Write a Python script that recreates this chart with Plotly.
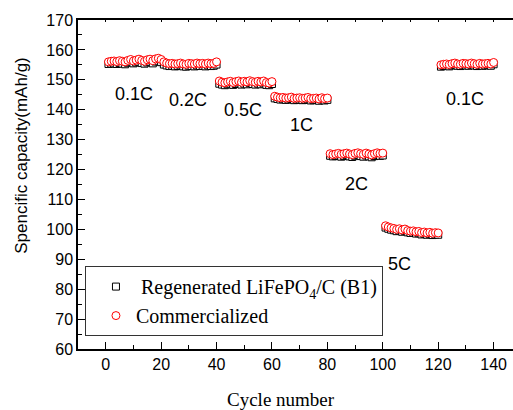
import plotly.graph_objects as go

# Cycle index and rate steps (20 cycles per step)
cycles = list(range(1, 141))

regenerated = [
    155.3, 155.4, 155.5, 155.3, 155.6, 155.4, 155.2, 155.7, 155.9, 155.5,
    155.8, 156.0, 155.6, 155.4, 155.8, 156.0, 155.5, 156.1, 156.2, 155.9,
    155.1, 154.8, 154.6, 154.7, 154.5, 154.6, 154.8, 154.5, 154.4, 154.7,
    154.6, 154.5, 154.8, 154.6, 154.7, 154.5, 154.8, 154.6, 154.7, 155.1,
    148.7, 148.4, 148.2, 148.5, 148.7, 148.3, 148.6, 148.8, 148.4, 148.7,
    148.5, 148.9, 148.6, 148.4, 148.7, 148.5, 148.8, 148.3, 148.2, 148.6,
    143.8, 143.6, 143.4, 143.5, 143.3, 143.4, 143.6, 143.2, 143.3, 143.4,
    143.2, 143.3, 143.5, 143.1, 143.2, 143.3, 143.0, 143.4, 143.1, 143.3,
    124.6, 124.4, 124.5, 124.7, 124.3, 124.5, 124.8, 124.4, 124.2, 124.6,
    124.9, 124.5, 124.3, 124.7, 124.4, 124.1, 124.5, 124.8, 124.6, 124.7,
    100.6, 100.2, 99.9, 99.7, 99.4, 99.6, 99.2, 99.5, 99.0, 98.8,
    98.9, 98.6, 98.7, 98.3, 98.5, 98.2, 98.4, 98.1, 98.3, 98.2,
    154.4, 154.6, 154.7, 154.5, 154.8, 155.0, 154.7, 154.6, 154.9, 154.8,
    154.7, 155.0, 154.8, 154.6, 154.9, 154.7, 154.8, 154.9, 154.7, 155.2,
]

commercialized = [
    156.0, 156.2, 156.3, 156.1, 156.4, 156.2, 156.0, 156.5, 156.8, 156.3,
    156.6, 156.9, 156.5, 156.2, 156.7, 156.9, 156.4, 157.0, 157.2, 156.8,
    156.0, 155.6, 155.4, 155.5, 155.3, 155.4, 155.6, 155.3, 155.2, 155.5,
    155.4, 155.3, 155.6, 155.4, 155.5, 155.3, 155.6, 155.4, 155.5, 156.0,
    149.6, 149.2, 149.0, 149.3, 149.5, 149.1, 149.4, 149.6, 149.2, 149.5,
    149.3, 149.7, 149.4, 149.2, 149.5, 149.3, 149.6, 149.1, 148.9, 149.4,
    144.5, 144.2, 144.0, 144.1, 143.9, 144.0, 144.2, 143.8, 143.9, 144.0,
    143.8, 143.9, 144.1, 143.7, 143.8, 143.9, 143.6, 144.0, 143.7, 143.9,
    125.3, 125.0, 125.2, 125.4, 125.1, 125.3, 125.5, 125.2, 125.0, 125.4,
    125.6, 125.3, 125.1, 125.5, 125.2, 124.9, 125.3, 125.6, 125.4, 125.5,
    101.2, 100.8, 100.5, 100.3, 100.0, 100.2, 99.8, 100.1, 99.6, 99.4,
    99.5, 99.2, 99.3, 98.9, 99.1, 98.8, 99.0, 98.7, 98.9, 98.8,
    155.0, 155.2, 155.3, 155.1, 155.4, 155.6, 155.3, 155.2, 155.5, 155.4,
    155.3, 155.6, 155.4, 155.2, 155.5, 155.3, 155.4, 155.5, 155.3, 155.8,
]

# Rate labels and where they sit (cycle, capacity)
rate_labels = ["0.1C", "0.2C", "0.5C", "1C", "2C", "5C", "0.1C"]
rate_label_x = [10.2, 29.6, 49.7, 70.8, 90.5, 106.0, 129.7]
rate_label_y = [145.3, 143.2, 139.9, 134.9, 115.2, 88.5, 143.6]

SANS = "Liberation Sans, Arial, sans-serif"
SERIF = "Liberation Serif, Times New Roman, serif"

fig = go.Figure()

fig.add_trace(go.Scatter(
    x=cycles, y=regenerated, mode="markers",
    name="\u00a0Regenerated LiFePO<sub>4</sub>/C (B1)",
    marker=dict(symbol="square", size=7, color="white",
                line=dict(color="black", width=1)),
))
fig.add_trace(go.Scatter(
    x=cycles, y=commercialized, mode="markers",
    name="Commercialized",
    marker=dict(symbol="circle", size=8, color="white",
                line=dict(color="red", width=1)),
))
# invisible trace carrying the top mirror axis
fig.add_trace(go.Scatter(x=[None], y=[None], xaxis="x2", showlegend=False))

for lab, lx, ly in zip(rate_labels, rate_label_x, rate_label_y):
    fig.add_annotation(x=lx, y=ly, text=lab, showarrow=False,
                       font=dict(family=SANS, size=18, color="black"))

# axis titles
fig.add_annotation(x=0.467, y=-0.155, xref="paper", yref="paper",
                   yanchor="middle", xanchor="center", showarrow=False,
                   text="Cycle number",
                   font=dict(family=SERIF, size=19, color="black"))
fig.add_annotation(x=-0.129, y=0.59, xref="paper", yref="paper",
                   yanchor="middle", xanchor="center", showarrow=False,
                   textangle=-90, text="Spencific capacity(mAh/g)",
                   font=dict(family=SANS, size=17, color="black"))

fig.update_layout(
    width=513, height=410,
    margin=dict(l=78, r=0, t=20, b=61),
    plot_bgcolor="white", paper_bgcolor="white",
    xaxis=dict(
        range=[-10, 147], tickmode="array",
        tickvals=[0, 20, 40, 60, 80, 100, 120, 140],
        ticks="inside", ticklen=7, tickwidth=1, tickcolor="black",
        minor=dict(dtick=10, tick0=0, ticks="inside", ticklen=4,
                   tickwidth=1, tickcolor="black"),
        showline=True, linecolor="black", linewidth=1.5,
        showgrid=False, zeroline=False,
        tickfont=dict(family=SANS, size=16, color="black"),
    ),
    xaxis2=dict(
        overlaying="x", side="top", matches="x", range=[-10, 147],
        dtick=10, tick0=0, ticks="inside", ticklen=2, tickcolor="black",
        showticklabels=False, showline=True, linecolor="black",
        linewidth=1.5, showgrid=False, zeroline=False,
    ),
    yaxis=dict(
        range=[60, 170], dtick=10, tick0=60,
        ticks="inside", ticklen=7, tickwidth=1, tickcolor="black",
        minor=dict(dtick=5, tick0=60, ticks="inside", ticklen=4,
                   tickwidth=1, tickcolor="black"),
        showline=True, linecolor="black", linewidth=1.5,
        showgrid=False, zeroline=False,
        tickfont=dict(family=SANS, size=16, color="black"),
    ),
    legend=dict(
        x=0.016, y=0.252, xanchor="left", yanchor="top",
        bordercolor="#333333", borderwidth=1, bgcolor="white",
        font=dict(family=SERIF, size=20, color="black"),
        tracegroupgap=0, indentation=10,
    ),
)

fig.write_html("out.html")
